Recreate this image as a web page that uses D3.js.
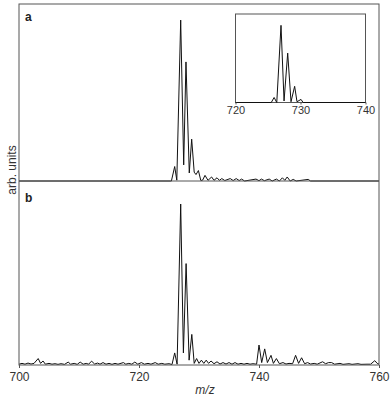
<!DOCTYPE html>
<meta charset="utf-8">
<style>
body { margin: 0; padding: 0; background: #fff; }
svg { display: block; font-family: "Liberation Sans", Arial, sans-serif; }
.frame { fill: none; stroke: #555; stroke-width: 1; }
.trace { fill: none; stroke: #111; stroke-width: 1; stroke-linejoin: round; }
.tick text { fill: #333; }
.tick line { stroke: #555; }
</style>
<body>
<svg id="chart" width="392" height="403"></svg>
<script src="https://cdnjs.cloudflare.com/ajax/libs/d3/7.8.5/d3.min.js"></script>
<script>

// spectrum a (top panel), m/z and relative intensity (%)
var mzA = [700, 725.4, 725.95, 726.3, 726.95, 727.45, 727.83, 728.38, 728.78, 729.2, 729.5, 729.9, 730.3,
  730.6, 731.0, 731.5, 732.1, 732.5, 733.0, 733.4, 733.8, 734.3, 735.2, 735.7, 736.2, 736.7, 737.1, 737.6,
  739.5, 740.0, 740.4, 740.9, 741.7, 742.2, 742.9, 743.4, 743.9, 744.3, 744.7, 745.2, 745.7, 746.2,
  748.2, 748.6, 760];
var intA = [0, 0, 9, 0.5, 100, 10, 74, 5, 26, 5.5, 4, 6.5, 0.3,
  0.5, 3.5, 0.4, 2.5, 0.4, 2, 0.4, 1.5, 0.3, 1.5, 0.3, 1.5, 0.3, 1.2, 0,
  1.2, 0.2, 1.2, 0.2, 1.2, 0, 1.2, 0, 2, 0.4, 2.5, 0, 1, 0,
  1, 0, 0];

// spectrum b (bottom panel)
var mzB = [700, 700.5, 701, 701.5, 702, 702.5, 703.2, 703.6, 704.0, 704.4, 705, 705.5, 706, 706.5, 707,
  707.6, 708.2, 708.6, 709.2, 709.7, 710.2, 710.7, 711.2, 711.6, 712.1, 712.6, 713.1, 713.5, 714.0, 714.5,
  715, 715.5, 716, 716.5, 717.4, 717.8, 718.3, 718.8, 719.3, 719.8, 720.4, 720.9, 721.5, 722, 722.7, 723.2,
  723.8, 724.3, 725, 725.5, 725.95, 726.35, 726.95, 727.4, 727.85, 728.35, 728.8, 729.2, 729.6, 730.0,
  730.4, 730.8, 731.2, 731.6, 732, 732.5, 733, 733.5, 734, 734.5, 735, 735.5, 736, 736.5, 737, 737.5,
  738, 738.5, 739, 739.6, 740.0, 740.45, 740.95, 741.4, 742.0, 742.4, 742.9, 743.4, 744, 744.5, 745,
  745.6, 746.1, 746.6, 747.1, 747.6, 748.1, 748.6, 749.2, 749.7, 750.6, 751.1, 751.6, 752.1, 752.6,
  753.5, 754, 755, 755.5, 756.5, 757, 758, 758.6, 759.3, 759.7, 760];
var intB = [0.5, 1, 0.5, 1.2, 0.6, 1, 4, 1, 2.5, 0.5, 1, 0.5, 0.8, 0.4, 0.8,
  0.4, 1.8, 0.5, 1, 0.4, 1.8, 0.5, 1, 0.5, 2.4, 0.6, 1.2, 0.5, 1.5, 0.5,
  1, 0.4, 1, 0.5, 1.5, 0.5, 1, 0.5, 1.8, 0.5, 1.5, 0.5, 1, 0.5, 1.5, 0.5,
  1, 0.5, 0.8, 0.3, 7.5, 0.5, 100, 7.5, 63, 3, 19, 1, 4, 1,
  3, 1, 3, 1, 2.5, 0.8, 2, 0.6, 1.5, 0.6, 1.5, 0.5, 1.5, 0.5, 1, 0.5,
  1, 0.5, 0.8, 0.5, 12.4, 1.5, 10, 1.5, 6, 1, 4, 0.8, 1.5, 0.6, 1,
  0.8, 6, 1, 4.5, 0.8, 1.5, 0.6, 1, 0.5, 2, 0.8, 1.5, 1.5, 0.5,
  1, 0.4, 0.8, 0.4, 0.8, 0.4, 0.5, 0.5, 2.7, 1, 0.5];

// inset (isotope pattern, 720-740)
var mzI = [720, 725.5, 725.94, 726.35, 727.0, 727.47, 728.03, 728.54, 729.1, 729.46, 730.08, 730.4, 740];
var intI = [0, 0, 6.5, 0, 100, 2, 64, 1, 21, 1, 4, 0, 0];

var mainTicks = [700, 720, 740, 760];
var insetTicks = [720, 730, 740];

var svg = d3.select("#chart");
var left = 19, right = 379, topA = 4, mid = 181, bottom = 365;

var x = d3.scaleLinear().domain([700, 760]).range([left, right]);
var yA = d3.scaleLinear().domain([0, 110]).range([mid, topA]);
var yB = d3.scaleLinear().domain([0, 114.3]).range([bottom, mid]);

function pts(mz, it) { return mz.map(function(m, i) { return [m, it[i]]; }); }

var lineA = d3.line().x(function(d) { return x(d[0]); }).y(function(d) { return yA(d[1]); });
var lineB = d3.line().x(function(d) { return x(d[0]); }).y(function(d) { return yB(d[1]); });

svg.append("path").attr("class", "trace").attr("d", lineA(pts(mzA, intA)));
svg.append("path").attr("class", "trace").attr("d", lineB(pts(mzB, intB)));

// frames
svg.append("rect").attr("class", "frame")
  .attr("x", left).attr("y", topA).attr("width", right - left).attr("height", bottom - topA);
svg.append("line").attr("class", "frame")
  .attr("x1", left).attr("x2", right).attr("y1", mid).attr("y2", mid);

// main x axis
var ax = svg.append("g").attr("transform", "translate(0," + bottom + ")")
  .call(d3.axisBottom(x).tickValues(mainTicks).tickSize(3).tickPadding(4).tickFormat(d3.format("d")));
ax.select(".domain").remove();
ax.selectAll("text").attr("font-size", 12).attr("font-family", "Liberation Sans, Arial, sans-serif");

svg.append("text").attr("x", 205).attr("y", 394).attr("text-anchor", "middle")
  .attr("font-size", 12).attr("font-style", "italic").attr("fill", "#333").text("m/z");

svg.append("text").attr("transform", "translate(15.5,170) rotate(-90)")
  .attr("text-anchor", "middle").attr("font-size", 12).attr("fill", "#333").text("arb. units");

svg.append("text").attr("x", 25).attr("y", 21).attr("font-size", 12).attr("font-weight", "bold")
  .attr("fill", "#222").text("a");
svg.append("text").attr("x", 25).attr("y", 202).attr("font-size", 12).attr("font-weight", "bold")
  .attr("fill", "#222").text("b");

// inset
var iL = 235.5, iR = 365.5, iT = 14, iB = 102.5;
var xi = d3.scaleLinear().domain([720, 740]).range([iL, iR]);
var yi = d3.scaleLinear().domain([0, 114.7]).range([iB, iT]);
var lineI = d3.line().x(function(d) { return xi(d[0]); }).y(function(d) { return yi(d[1]); });

svg.append("rect").attr("x", iL).attr("y", iT).attr("width", iR - iL).attr("height", iB - iT)
  .attr("fill", "#fff").attr("class", "frame");
svg.append("path").attr("class", "trace").attr("d", lineI(pts(mzI, intI)));

var ix = svg.append("g").attr("transform", "translate(0," + iB + ")")
  .call(d3.axisBottom(xi).tickValues(insetTicks).tickSize(2).tickPadding(2).tickFormat(d3.format("d")));
ix.select(".domain").remove();
ix.selectAll("text").attr("font-size", 11).attr("font-family", "Liberation Sans, Arial, sans-serif");

</script>
</body>
